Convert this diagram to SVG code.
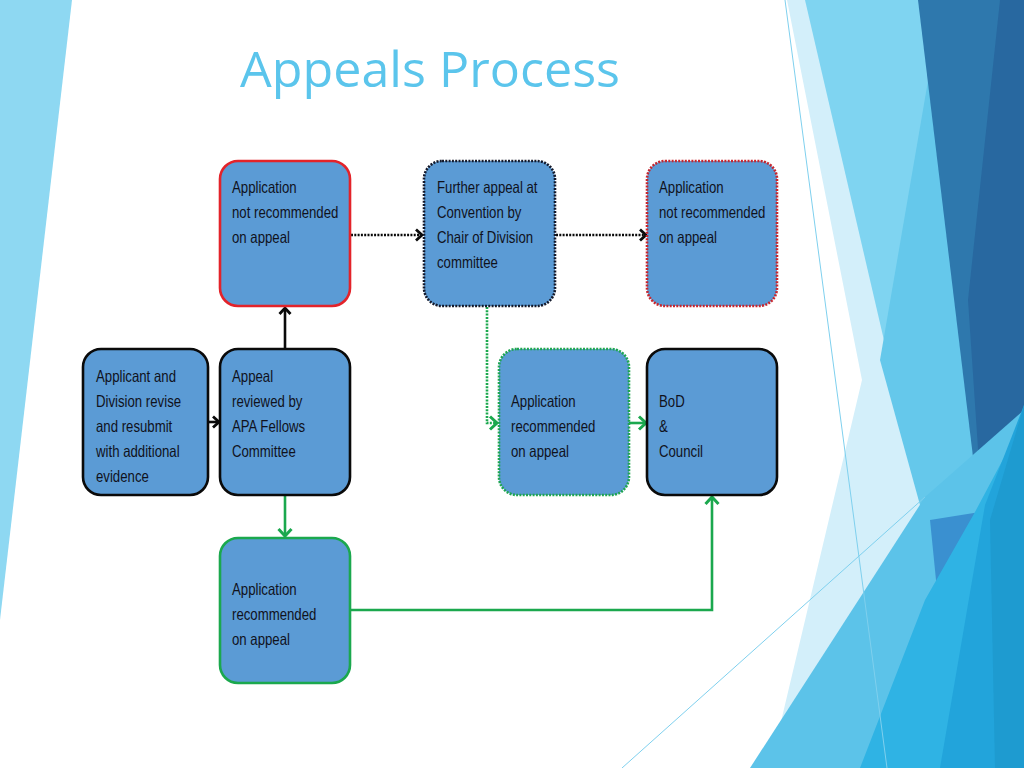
<svg xmlns="http://www.w3.org/2000/svg" width="1024" height="768" viewBox="0 0 1024 768">
<defs>
<style>
.box{fill:#5B9BD5;stroke-width:2.6}
.solid-black{stroke:#0a0a0a}
.solid-red{stroke:#E3232A}
.dot-navy{stroke:#141a2c;stroke-dasharray:2 1.3}
.dot-red{stroke:#C8262E;stroke-dasharray:2 1.3}
.dot-green{stroke:#1FA552;stroke-dasharray:2 1.3}
.solid-green{stroke:#1BA84E}
.lbl{font-family:"Liberation Sans",Arial,sans-serif;font-size:16.5px;fill:#10121c}
.title{font-family:"Open Sans","Liberation Sans",sans-serif;font-size:50px;fill:#5BC5EC}
.c{fill:none;stroke-width:2.6}
.cb{stroke:#0a0a0a}
.cg{stroke:#1BA84E}
.dots{stroke-dasharray:2 1.3}
</style>
<marker id="ah-black" markerUnits="userSpaceOnUse" markerWidth="14" markerHeight="16" refX="9" refY="7" orient="auto" viewBox="0 0 14 16">
<path d="M3,1.5 L9,7 L3,12.5" fill="none" stroke="#0a0a0a" stroke-width="2.8"/>
</marker>
<marker id="ah-green" markerUnits="userSpaceOnUse" markerWidth="16" markerHeight="18" refX="10" refY="8" orient="auto" viewBox="0 0 16 18">
<path d="M3,1.5 L10,8 L3,14.5" fill="none" stroke="#1BA84E" stroke-width="3"/>
</marker>
</defs>

<rect width="1024" height="768" fill="#ffffff"/>

<g id="background">
<polygon points="0,0 72,0 0,620" fill="#8ED8F2"/>
<polygon points="787,0 1024,0 1024,768 770,768 862,380" fill="#D3EFFA"/>
<polygon points="805,0 1024,0 1024,560 935,560" fill="#7FD4F1"/>
<polygon points="935,40 995,40 995,520 920,505 880,360" fill="#65C8EB"/>
<polygon points="918,0 1024,0 1024,410 980,515" fill="#2E78AD"/>
<polygon points="1000,0 1024,0 1024,410 982,508 968,300" fill="#2868A0"/>
<polygon points="750,768 925,497 1024,410 1024,768" fill="#5CC3E9"/>
<polygon points="930,520 980,512 960,600 940,620" fill="#3A90D0"/>
<polygon points="860,768 925,600 975,512 1024,420 1024,768" fill="#2FB3E4"/>
<polygon points="940,768 985,505 1024,405 1024,768" fill="#22A4DB"/>
<polygon points="995,768 990,520 1024,405 1024,768" fill="#1E9BD0"/>
<line x1="785" y1="0" x2="887" y2="768" stroke="#7FD0EE" stroke-width="1"/>
<line x1="622" y1="768" x2="925" y2="497" stroke="#7FD0EE" stroke-width="1"/>
</g>

<text class="title" x="240" y="87" textLength="380" lengthAdjust="spacingAndGlyphs">Appeals Process</text>

<g id="connectors">
<line class="c cb dots" x1="351" y1="235" x2="422" y2="235" marker-end="url(#ah-black)"/>
<line class="c cb dots" x1="556" y1="235" x2="646" y2="235" marker-end="url(#ah-black)"/>
<line class="c cb" x1="285" y1="349" x2="285" y2="308" marker-end="url(#ah-black)"/>
<line class="c cb" x1="208" y1="422" x2="219" y2="422" marker-end="url(#ah-black)"/>
<line class="c cg" x1="285" y1="496" x2="285" y2="536" marker-end="url(#ah-green)"/>
<polyline class="c cg dots" points="487,307 487,423 497,423" marker-end="url(#ah-green)"/>
<line class="c cg" x1="629" y1="423" x2="646" y2="423" marker-end="url(#ah-green)"/>
<polyline class="c cg" points="349,610 712,610 712,497" marker-end="url(#ah-green)"/>
</g>

<g id="node-not-recommended-1">
<rect class="box solid-red" x="220" y="161" width="130" height="145" rx="18"/>
<text class="lbl" transform="translate(232,193) scale(0.8,1)">Application</text>
<text class="lbl" transform="translate(232,218) scale(0.8,1)">not recommended</text>
<text class="lbl" transform="translate(232,243) scale(0.8,1)">on appeal</text>
</g>

<g id="node-further-appeal">
<rect class="box dot-navy" x="424" y="161" width="131" height="145" rx="18"/>
<text class="lbl" transform="translate(437,193) scale(0.8,1)">Further appeal at</text>
<text class="lbl" transform="translate(437,218) scale(0.8,1)">Convention by</text>
<text class="lbl" transform="translate(437,243) scale(0.8,1)">Chair of Division</text>
<text class="lbl" transform="translate(437,268) scale(0.8,1)">committee</text>
</g>

<g id="node-not-recommended-2">
<rect class="box dot-red" x="647" y="161" width="130" height="145" rx="18"/>
<text class="lbl" transform="translate(659,193) scale(0.8,1)">Application</text>
<text class="lbl" transform="translate(659,218) scale(0.8,1)">not recommended</text>
<text class="lbl" transform="translate(659,243) scale(0.8,1)">on appeal</text>
</g>

<g id="node-revise-resubmit">
<rect class="box solid-black" x="83" y="349" width="125" height="146" rx="18"/>
<text class="lbl" transform="translate(96,382) scale(0.8,1)">Applicant and</text>
<text class="lbl" transform="translate(96,407) scale(0.8,1)">Division revise</text>
<text class="lbl" transform="translate(96,432) scale(0.8,1)">and resubmit</text>
<text class="lbl" transform="translate(96,457) scale(0.8,1)">with additional</text>
<text class="lbl" transform="translate(96,482) scale(0.8,1)">evidence</text>
</g>

<g id="node-appeal-reviewed">
<rect class="box solid-black" x="220" y="349" width="130" height="146" rx="18"/>
<text class="lbl" transform="translate(232,382) scale(0.8,1)">Appeal</text>
<text class="lbl" transform="translate(232,407) scale(0.8,1)">reviewed by</text>
<text class="lbl" transform="translate(232,432) scale(0.8,1)">APA Fellows</text>
<text class="lbl" transform="translate(232,457) scale(0.8,1)">Committee</text>
</g>

<g id="node-recommended-convention">
<rect class="box dot-green" x="499" y="349" width="130" height="146" rx="18"/>
<text class="lbl" transform="translate(511,407) scale(0.8,1)">Application</text>
<text class="lbl" transform="translate(511,432) scale(0.8,1)">recommended</text>
<text class="lbl" transform="translate(511,457) scale(0.8,1)">on appeal</text>
</g>

<g id="node-bod-council">
<rect class="box solid-black" x="647" y="349" width="130" height="146" rx="18"/>
<text class="lbl" transform="translate(659,407) scale(0.8,1)">BoD</text>
<text class="lbl" transform="translate(659,432) scale(0.8,1)">&amp;</text>
<text class="lbl" transform="translate(659,457) scale(0.8,1)">Council</text>
</g>

<g id="node-recommended-appeal">
<rect class="box solid-green" x="220" y="538" width="130" height="145" rx="18"/>
<text class="lbl" transform="translate(232,595) scale(0.8,1)">Application</text>
<text class="lbl" transform="translate(232,620) scale(0.8,1)">recommended</text>
<text class="lbl" transform="translate(232,645) scale(0.8,1)">on appeal</text>
</g>
</svg>
